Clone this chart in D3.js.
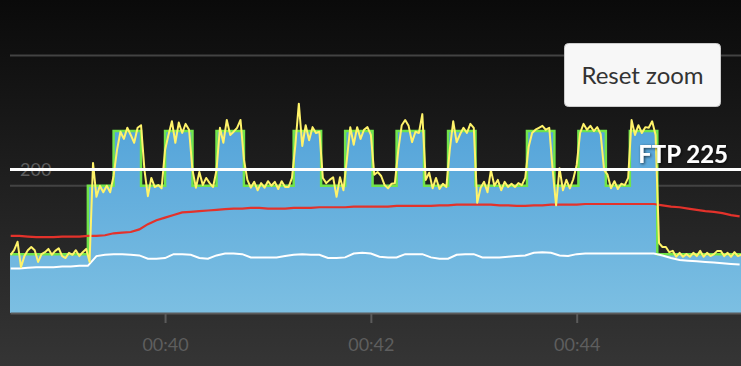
<!DOCTYPE html>
<html>
<head>
<meta charset="utf-8">
<script src="https://cdn.jsdelivr.net/npm/d3@7"></script>
<style>
	html, body { margin: 0; padding: 0; background: #1a1a1a; }
	svg { display: block; font-family: Lato, "Open Sans", sans-serif; }
</style>
</head>
<body>
<svg id="chart" width="741" height="366"></svg>
<script>
// time axis (seconds into the ride)
var timeDomain = [2309.6, 2735.8];
var tickSeconds = [2400, 2520, 2640];
var tickLabels = ["00:40", "00:42", "00:44"];

// power axis
var gridWatts = [200, 400];
var gridLabels = ["200", ""];
var ftpWatts = 225;
var ftpLabel = "FTP 225";

// workout target: step start times and watts
var targetStart = [2309.6, 2355, 2370, 2386, 2400, 2416, 2430, 2446, 2475, 2491, 2505, 2521, 2535, 2551, 2565, 2581, 2611, 2627, 2641, 2657, 2671, 2687, 2735.8];
var targetWatts = [95, 200, 284, 200, 284, 200, 284, 200, 284, 200, 284, 200, 284, 200, 284, 200, 284, 200, 284, 200, 284, 95, 95];

// actual power, one value every 2 s starting at 2310
var powerStart = 2310;
var powerStep = 2;
var powerWatts = [
	94, 101, 114, 75, 92, 101, 106, 101, 83, 95,
	98, 103, 94, 100, 104, 92, 89, 97, 94, 101,
	92, 98, 103, 83, 235, 183, 200, 190, 200, 190,
	215, 255, 283, 272, 289, 278, 266, 289, 293, 224,
	184, 212, 198, 201, 196, 255, 278, 299, 266, 297,
	281, 295, 286, 224, 197, 221, 201, 212, 204, 198,
	224, 289, 266, 301, 278, 283, 289, 301, 240, 209,
	197, 206, 193, 204, 197, 207, 200, 206, 195, 207,
	198, 198, 212, 263, 326, 261, 293, 270, 290, 281,
	283, 212, 204, 209, 213, 183, 213, 193, 240, 290,
	263, 290, 272, 286, 290, 278, 217, 221, 215, 201,
	196, 203, 204, 255, 293, 301, 292, 267, 283, 281,
	310, 209, 220, 196, 212, 195, 203, 198, 255, 299,
	267, 279, 289, 281, 295, 289, 174, 197, 206, 190,
	224, 200, 209, 193, 206, 198, 203, 198, 204, 201,
	212, 260, 281, 286, 289, 292, 286, 289, 224, 170,
	227, 193, 209, 196, 210, 232, 281, 295, 286, 292,
	284, 290, 279, 224, 217, 196, 207, 195, 203, 201,
	212, 301, 278, 293, 281, 290, 289, 299, 278, 112,
	106, 106, 98, 100, 91, 97, 91, 95, 91, 97,
	92, 100, 91, 97, 92, 95, 100, 100, 92, 97,
	91, 98, 92, 94
];

// heart rate (red) and cadence (white), one value every 5 s starting at 2310
var trendStart = 2310;
var trendStep = 5;
var heartRate = [
	123, 123, 122, 121, 121, 121, 122, 122, 122, 123,
	123, 124, 127, 128, 129, 133, 141, 147, 151, 155,
	159, 160, 161, 162, 163, 164, 165, 165, 166, 166,
	165, 165, 165, 166, 166, 166, 167, 167, 167, 167,
	168, 168, 168, 168, 168, 169, 169, 169, 169, 169,
	170, 170, 171, 171, 171, 171, 171, 170, 170, 169,
	169, 170, 170, 171, 171, 171, 171, 172, 172, 172,
	172, 172, 172, 172, 172, 172, 170, 168, 167, 165,
	163, 161, 160, 158, 155, 153
];
var cadence = [
	73, 73, 74, 75, 75, 75, 76, 76, 77, 77,
	92, 94, 95, 95, 94, 93, 88, 88, 89, 95,
	95, 94, 89, 88, 93, 96, 96, 95, 90, 90,
	90, 90, 92, 94, 95, 94, 94, 89, 89, 90,
	96, 97, 96, 91, 90, 90, 95, 95, 95, 90,
	88, 88, 94, 95, 95, 90, 90, 90, 91, 92,
	93, 97, 98, 97, 93, 92, 95, 96, 96, 96,
	96, 96, 96, 96, 96, 96, 93, 89, 86, 85,
	84, 83, 82, 81, 80, 79
];

var colors = {
	target: "#70e44a",
	power: "#fff36a",
	heartRate: "#e3322b",
	cadence: "#ffffff",
	grid: "#434343",
	axis: "#5b5b5b",
	label: "#5e5e5e"
};

var svg = d3.select("#chart");
var width = 741, height = 366;
var plot = { left: 10, right: 741, top: 0, bottom: 313 };

var x = d3.scaleLinear().domain(timeDomain).range([plot.left, plot.right]);
var y = d3.scaleLinear().domain([0, 400]).range([316, 55.5]);

var defs = svg.append("defs");

var bg = defs.append("linearGradient").attr("id", "bg")
	.attr("x1", 0).attr("y1", 0).attr("x2", 0).attr("y2", 1);
bg.append("stop").attr("offset", "0%").attr("stop-color", "#0a0a0a");
bg.append("stop").attr("offset", "100%").attr("stop-color", "#353535");

var blue = defs.append("linearGradient").attr("id", "blue")
	.attr("gradientUnits", "userSpaceOnUse")
	.attr("x1", 0).attr("y1", y(284)).attr("x2", 0).attr("y2", plot.bottom);
blue.append("stop").attr("offset", "0%").attr("stop-color", "#56a5da");
blue.append("stop").attr("offset", "100%").attr("stop-color", "#7cbfe2");

defs.append("clipPath").attr("id", "plotClip")
	.append("rect")
	.attr("x", plot.left).attr("y", plot.top)
	.attr("width", plot.right - plot.left).attr("height", plot.bottom - plot.top);

var shadow = defs.append("filter").attr("id", "shadow")
	.attr("x", "-10%").attr("y", "-30%").attr("width", "120%").attr("height", "160%");
shadow.append("feDropShadow")
	.attr("dx", 1).attr("dy", 1).attr("stdDeviation", 1.5)
	.attr("flood-color", "#000").attr("flood-opacity", 0.7);

svg.append("rect").attr("width", width).attr("height", height).attr("fill", "url(#bg)");

// grid
var grid = svg.append("g");
grid.selectAll("line").data(gridWatts).enter().append("line")
	.attr("x1", plot.left).attr("x2", plot.right)
	.attr("y1", function(d) { return y(d); })
	.attr("y2", function(d) { return y(d); })
	.attr("stroke", colors.grid).attr("stroke-width", 2);
grid.selectAll("text").data(gridWatts).enter().append("text")
	.attr("x", plot.left + 10)
	.attr("y", function(d) { return y(d) - 10; })
	.attr("fill", colors.label)
	.attr("font-size", 18)
	.text(function(d, i) { return gridLabels[i]; });

var series = svg.append("g").attr("clip-path", "url(#plotClip)");

var target = targetStart.map(function(t, i) { return { t: t, w: targetWatts[i] }; });

series.append("path").datum(target)
	.attr("fill", "url(#blue)")
	.attr("d", d3.area().curve(d3.curveStepAfter)
		.x(function(d) { return x(d.t); })
		.y0(y(0))
		.y1(function(d) { return y(d.w); }));

series.append("path").datum(target)
	.attr("fill", "none")
	.attr("stroke", colors.target).attr("stroke-width", 2.5)
	.attr("d", d3.line().curve(d3.curveStepAfter)
		.x(function(d) { return x(d.t); })
		.y(function(d) { return y(d.w); }));

function toPoints(values, start, step) {
	return values.map(function(v, i) { return { t: start + i * step, w: v }; });
}

var line = d3.line()
	.x(function(d) { return x(d.t); })
	.y(function(d) { return y(d.w); });

series.append("path").datum(toPoints(cadence, trendStart, trendStep))
	.attr("fill", "none").attr("stroke", colors.cadence).attr("stroke-width", 2)
	.attr("d", line);

series.append("path").datum(toPoints(heartRate, trendStart, trendStep))
	.attr("fill", "none").attr("stroke", colors.heartRate).attr("stroke-width", 2.2)
	.attr("d", line);

series.append("path").datum(toPoints(powerWatts, powerStart, powerStep))
	.attr("fill", "none").attr("stroke", colors.power).attr("stroke-width", 2)
	.attr("stroke-linejoin", "round")
	.attr("d", line);

// FTP marker
svg.append("line")
	.attr("x1", plot.left).attr("x2", plot.right)
	.attr("y1", y(ftpWatts)).attr("y2", y(ftpWatts))
	.attr("stroke", "#fff").attr("stroke-width", 3);
svg.append("text")
	.attr("x", 728).attr("y", y(ftpWatts) - 6.5)
	.attr("text-anchor", "end")
	.attr("fill", "#fff")
	.attr("font-size", 24).attr("font-weight", "bold")
	.attr("filter", "url(#shadow)")
	.text(ftpLabel);

// x axis
var xAxis = d3.axisBottom(x)
	.tickValues(tickSeconds)
	.tickFormat(function(d, i) { return tickLabels[i]; })
	.tickSize(10).tickSizeOuter(0).tickPadding(15);

var gx = svg.append("g").attr("transform", "translate(0," + plot.bottom + ")").call(xAxis);
gx.select(".domain").attr("stroke", colors.axis).attr("stroke-width", 2);
gx.selectAll(".tick line").attr("stroke", colors.axis).attr("stroke-width", 2);
gx.selectAll(".tick text")
	.attr("fill", colors.label)
	.attr("font-size", 18)
	.attr("font-family", "Lato, 'Open Sans', sans-serif");

// reset zoom button
var btn = svg.append("g").attr("transform", "translate(564.5,43.5)");
btn.append("rect")
	.attr("width", 156).attr("height", 63).attr("rx", 4)
	.attr("fill", "#f7f7f7").attr("stroke", "#cccccc");
btn.append("text")
	.attr("x", 78).attr("y", 40)
	.attr("text-anchor", "middle")
	.attr("fill", "#333")
	.attr("font-size", 24)
	.text("Reset zoom");
</script>
</body>
</html>
